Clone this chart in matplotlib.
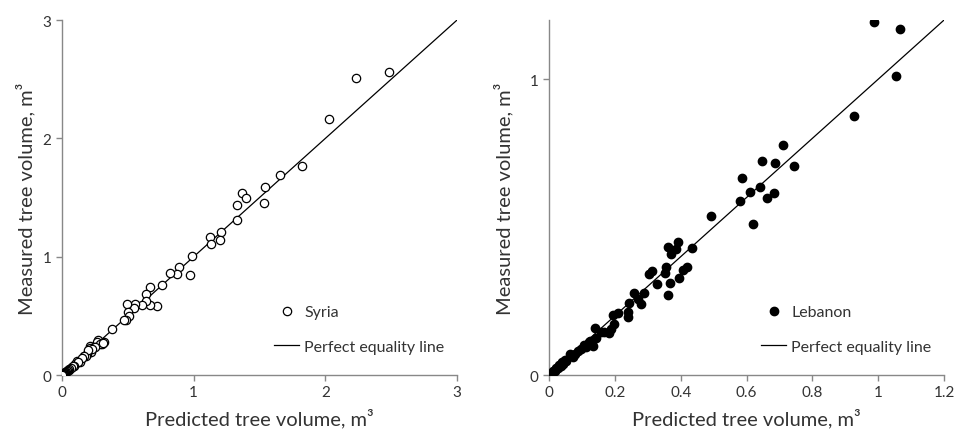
import matplotlib
matplotlib.use("Agg")
import matplotlib.pyplot as plt

plt.rcParams['font.family'] = ['Lato', 'DejaVu Sans']

# Syria: predicted vs measured tree volume (m3)
syria_pred = [2.48, 2.23, 2.03, 1.82, 1.655, 1.54, 1.53, 1.37, 1.40, 1.33, 1.33, 1.21, 1.20,
              1.12, 1.13, 0.99, 0.97, 0.885, 0.87, 0.82, 0.76, 0.72, 0.67, 0.665, 0.634,
              0.634, 0.604, 0.553, 0.55, 0.49, 0.503, 0.505, 0.488, 0.47, 0.377,
              0.273, 0.318, 0.30, 0.265, 0.215, 0.24, 0.21, 0.22, 0.19, 0.164, 0.182,
              0.139, 0.114, 0.10, 0.076, 0.05, 0.29, 0.31, 0.25, 0.23, 0.20, 0.17,
              0.15, 0.12, 0.09, 0.08, 0.065, 0.055, 0.045, 0.04, 0.035, 0.03, 0.025,
              0.02, 0.018, 0.015, 0.012, 0.01, 0.008, 0.006, 0.005, 0.004, 0.003, 0.002]
syria_meas = [2.56, 2.51, 2.16, 1.77, 1.69, 1.585, 1.45, 1.54, 1.50, 1.44, 1.31, 1.205, 1.14,
              1.17, 1.105, 1.005, 0.847, 0.91, 0.853, 0.861, 0.763, 0.58, 0.743, 0.59, 0.684,
              0.628, 0.591, 0.602, 0.566, 0.602, 0.529, 0.495, 0.467, 0.467, 0.388,
              0.298, 0.276, 0.262, 0.276, 0.248, 0.234, 0.225, 0.197, 0.177, 0.158, 0.158,
              0.113, 0.121, 0.093, 0.065, 0.045, 0.26, 0.27, 0.24, 0.22, 0.21, 0.16,
              0.145, 0.11, 0.08, 0.075, 0.06, 0.05, 0.04, 0.038, 0.03, 0.028, 0.022,
              0.018, 0.02, 0.013, 0.01, 0.009, 0.007, 0.005, 0.004, 0.003, 0.002, 0.001]

# Lebanon: predicted vs measured tree volume (m3)
leb_pred = [0.986, 1.065, 1.054, 0.926, 0.71, 0.745, 0.646, 0.686, 0.587, 0.64, 0.611, 0.683,
            0.662, 0.58, 0.62, 0.493, 0.393, 0.36, 0.387, 0.37, 0.434, 0.418, 0.407, 0.356,
            0.351, 0.314, 0.304, 0.394, 0.367, 0.328, 0.36, 0.258, 0.289, 0.27, 0.28, 0.243,
            0.24, 0.24, 0.21, 0.194, 0.197, 0.187, 0.181, 0.139, 0.159, 0.167, 0.144, 0.124,
            0.134, 0.113, 0.098, 0.088, 0.078, 0.073, 0.053, 0.043, 0.035, 0.027, 0.017,
            0.009, 0.005, 0.12, 0.105, 0.065, 0.048, 0.04, 0.03, 0.022, 0.012, 0.002]
leb_meas = [1.195, 1.168, 1.011, 0.877, 0.777, 0.706, 0.725, 0.716, 0.666, 0.635, 0.617, 0.614,
            0.599, 0.587, 0.512, 0.538, 0.451, 0.433, 0.425, 0.41, 0.428, 0.365, 0.356, 0.366,
            0.344, 0.351, 0.343, 0.328, 0.311, 0.306, 0.271, 0.278, 0.276, 0.257, 0.239, 0.244,
            0.212, 0.195, 0.21, 0.203, 0.172, 0.156, 0.142, 0.158, 0.147, 0.144, 0.124, 0.116,
            0.099, 0.094, 0.088, 0.082, 0.071, 0.06, 0.048, 0.037, 0.032, 0.023, 0.015,
            0.007, 0.002, 0.11, 0.1, 0.07, 0.05, 0.045, 0.035, 0.025, 0.012, 0.003]

syria_ticks = [0, 1, 2, 3]
leb_xticks = [0, 0.2, 0.4, 0.6, 0.8, 1, 1.2]
leb_yticks = [0, 1]


def style_axes(ax, ypad):
    for s in ['top', 'right']:
        ax.spines[s].set_visible(False)
    for s in ['left', 'bottom']:
        ax.spines[s].set_color('#888888')
        ax.spines[s].set_linewidth(1)
    ax.tick_params(axis='both', colors='#888888', labelcolor='#333333',
                   labelsize=11, length=4, width=1)
    ax.set_xlabel('Predicted tree volume, m³', fontsize=14.5, color='#333333', labelpad=6)
    ax.set_ylabel('Measured tree volume, m³', fontsize=14.5, color='#333333', labelpad=ypad)


fig = plt.figure(figsize=(9.56, 4.31), dpi=100)
ax1 = fig.add_axes([0.0649, 0.1276, 0.4132, 0.8236])
ax2 = fig.add_axes([0.5743, 0.1276, 0.4132, 0.8236])

# left panel: Syria
ax1.scatter(syria_pred, syria_meas, s=36, facecolors='white', edgecolors='black',
            linewidths=0.9, label='Syria', zorder=3)
ax1.plot([0, 3], [0, 3], color='black', lw=0.9, label='Perfect equality line', zorder=2)
ax1.set_xlim(0, 3)
ax1.set_ylim(0, 3)
ax1.set_xticks(syria_ticks)
ax1.set_yticks(syria_ticks)
ax1.set_xticklabels([str(t) for t in syria_ticks])
ax1.set_yticklabels([str(t) for t in syria_ticks])
style_axes(ax1, 5)
ax1.legend(frameon=False, loc='lower left', bbox_to_anchor=(0.50, 0.02), fontsize=11.5,
           handlelength=1.6, handletextpad=0.3, labelspacing=1.3, labelcolor='#333333')

# right panel: Lebanon
ax2.scatter(leb_pred, leb_meas, s=36, color='black', label='Lebanon', zorder=3)
ax2.plot([0, 1.2], [0, 1.2], color='black', lw=0.9, label='Perfect equality line', zorder=2)
ax2.set_xlim(0, 1.2)
ax2.set_ylim(0, 1.2)
ax2.set_xticks(leb_xticks)
ax2.set_yticks(leb_yticks)
ax2.set_xticklabels(['0', '0.2', '0.4', '0.6', '0.8', '1', '1.2'])
ax2.set_yticklabels(['0', '1'])
style_axes(ax2, 12)
ax2.legend(frameon=False, loc='lower left', bbox_to_anchor=(0.50, 0.02), fontsize=11.5,
           handlelength=1.6, handletextpad=0.3, labelspacing=1.3, labelcolor='#333333')

for ax in (ax1, ax2):
    for sp in ax.spines.values():
        sp.set_clip_on(False)

fig.savefig('out.png', dpi=100)
